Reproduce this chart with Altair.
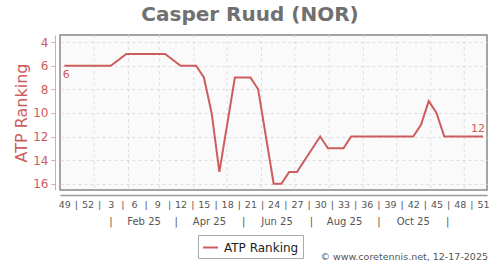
import altair as alt
import pandas as pd

RED = "#cd5c5c"

# ranking points (ISO-week Thursdays) and ATP rank
dates = [
    "2024-12-05", "2024-12-12", "2024-12-19", "2024-12-26", "2025-01-02", "2025-01-09", "2025-01-16",
    "2025-01-30", "2025-02-06", "2025-02-13", "2025-02-20", "2025-02-27", "2025-03-06",
    "2025-03-20", "2025-03-27", "2025-04-03", "2025-04-10", "2025-04-17", "2025-04-24",
    "2025-05-08", "2025-05-15", "2025-05-22", "2025-05-29",
    "2025-06-12", "2025-06-19", "2025-06-26", "2025-07-03",
    "2025-07-24", "2025-07-31", "2025-08-07", "2025-08-14",
    "2025-08-21", "2025-08-28", "2025-09-04", "2025-09-11", "2025-09-18", "2025-09-25",
    "2025-10-02", "2025-10-09", "2025-10-16", "2025-10-23", "2025-10-30", "2025-11-06",
    "2025-11-13", "2025-11-20", "2025-11-27", "2025-12-04", "2025-12-11", "2025-12-18",
]
ranks = [
    6, 6, 6, 6, 6, 6, 6,
    5, 5, 5, 5, 5, 5,
    6, 6, 6, 7, 10, 15,
    7, 7, 7, 8,
    16, 16, 15, 15,
    12, 13, 13, 13,
    12, 12, 12, 12, 12, 12,
    12, 12, 12, 11, 9, 10,
    12, 12, 12, 12, 12, 12,
]

# week-number tick labels
tick_dates = [
    "2024-12-05", "2024-12-26", "2025-01-16", "2025-02-06", "2025-02-27", "2025-03-20",
    "2025-04-10", "2025-05-01", "2025-05-22", "2025-06-12", "2025-07-03", "2025-07-24",
    "2025-08-14", "2025-09-04", "2025-09-25", "2025-10-16", "2025-11-06", "2025-11-27",
    "2025-12-18",
]
tick_labels = ["49", "52", "3", "6", "9", "12", "15", "18", "21", "24", "27", "30",
               "33", "36", "39", "42", "45", "48", "51"]

# month row
month_labels = ["Feb 25", "Apr 25", "Jun 25", "Aug 25", "Oct 25"]
month_label_dates = ["2025-02-15", "2025-04-15", "2025-06-15", "2025-08-15", "2025-10-16"]
month_sep_dates = ["2025-01-16", "2025-03-16", "2025-05-16", "2025-07-16", "2025-09-15", "2025-11-16"]

# vertical grid at month starts
grid_dates = ["2025-01-01", "2025-02-01", "2025-03-01", "2025-04-01", "2025-05-01", "2025-06-01",
              "2025-07-01", "2025-08-01", "2025-09-01", "2025-10-01", "2025-11-01", "2025-12-01"]

y_ticks = [4, 6, 8, 10, 12, 14, 16]

W, H = 427, 155


def ms(d):
    return int(pd.Timestamp(d, tz="UTC").value // 10**6)


tick_ms = [ms(d) for d in tick_dates]
sep_ms = [t + int(10.5 * 86400000) for t in tick_ms[:-1]]
axis_values = sorted(tick_ms + sep_ms)
expr = "'|'"
for t, lab in zip(reversed(tick_ms), reversed(tick_labels)):
    expr = f"time(datum.value) == {t} ? '{lab}' : ({expr})"

xscale = alt.Scale(type="utc", domain=[ms("2024-12-01T03:00"), ms("2025-12-21T14:00")])
yscale = alt.Scale(domain=[3.4, 16.53], reverse=True, nice=False, zero=False)

xaxis = alt.Axis(values=axis_values, labelExpr=expr, title=None, grid=False,
                 ticks=False, tickSize=0, offset=5, domainColor="#999999",
                 domainWidth=1.5, labelColor="#555555", labelFontSize=9.5,
                 labelPadding=4, labelOverlap=False, labelAngle=0, labelFlush=False)
yaxis = alt.Axis(values=y_ticks, title="ATP Ranking", titleColor=RED,
                 titleFontSize=16, titleFontWeight="normal", titlePadding=3,
                 labelColor=RED, labelFontSize=12, labelPadding=3,
                 domainColor="#e5a5a5", tickColor="#e5a5a5", tickSize=4,
                 offset=5, grid=True, gridColor="#dddddd", gridDash=[3, 3])


def X():
    return alt.X("date:T", scale=xscale, axis=xaxis)


def Y():
    return alt.Y("rank:Q", scale=yscale, axis=yaxis)


df = pd.DataFrame({"date": dates, "rank": ranks, "series": "ATP Ranking"})
ends = pd.DataFrame({
    "date": [dates[0], dates[-1]],
    "rank": [ranks[0], ranks[-1]],
    "label": [str(ranks[0]), str(ranks[-1])],
})
grid_df = pd.DataFrame({"date": grid_dates})
month_df = pd.DataFrame({"date": month_label_dates + month_sep_dates,
                         "label": month_labels + ["|"] * len(month_sep_dates)})
credit_df = pd.DataFrame({"t": ["© www.coretennis.net, 12-17-2025"]})

grid = alt.Chart(grid_df).mark_rule(color="#dddddd", strokeDash=[3, 3], strokeWidth=1).encode(
    x=X()
)

line = alt.Chart(df).mark_line(strokeWidth=2).encode(
    x=X(),
    y=Y(),
    color=alt.Color("series:N", scale=alt.Scale(domain=["ATP Ranking"], range=[RED]),
                    legend=alt.Legend(title=None, orient="none", legendX=138, legendY=200,
                                      symbolType="stroke", symbolSize=225,
                                      symbolStrokeWidth=2, labelFontSize=12,
                                      labelColor="#222222", strokeColor="#aaaaaa",
                                      fillColor="white", padding=4, labelOffset=5)),
)

end_first = alt.Chart(ends.iloc[[0]]).mark_text(
    color=RED, fontSize=11, align="center", baseline="middle", dx=2, dy=9
).encode(x=X(), y=Y(), text="label:N")

end_last = alt.Chart(ends.iloc[[1]]).mark_text(
    color=RED, fontSize=11, align="right", baseline="middle", dx=2, dy=-8
).encode(x=X(), y=Y(), text="label:N")

months = alt.Chart(month_df).mark_text(
    color="#555555", fontSize=10, baseline="middle"
).encode(x=X(), y=alt.value(H + 32), text="label:N")

credit = alt.Chart(credit_df).mark_text(
    color="#555555", fontSize=9.5, align="right", baseline="middle"
).encode(x=alt.value(W + 1), y=alt.value(H + 67), text="t:N")

chart = alt.layer(grid, line, end_first, end_last, months, credit).properties(
    width=W, height=H,
    title=alt.TitleParams("Casper Ruud (NOR)", fontSize=20, fontWeight="bold",
                          color="#707070", anchor="middle", dx=-23.5, dy=20, offset=14,
                          baseline="alphabetic"),
    autosize=alt.AutoSizeParams(type="none"),
    padding={"left": 60, "top": 35, "right": 13, "bottom": 80},
).configure(font="DejaVu Sans").configure_view(stroke="#888888", strokeWidth=1.5, fill="#fafafa")

chart.save("out.html", embed_options={"renderer": "svg", "actions": False})
